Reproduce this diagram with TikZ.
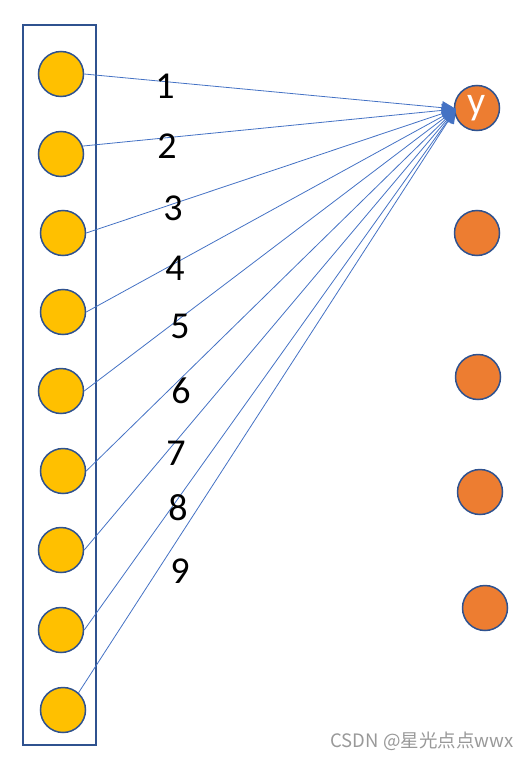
\documentclass[tikz,border=0pt]{standalone}
\usepackage{fontspec}
\setmainfont{Carlito}
\newfontfamily\cjkfont{Noto Sans CJK SC}
\usetikzlibrary{arrows.meta}
\definecolor{inyellow}{HTML}{FFC000}
\definecolor{outorange}{HTML}{ED7D31}
\definecolor{edgeblue}{HTML}{2F528F}
\definecolor{lineblue}{HTML}{4472C4}
\begin{document}
\begin{tikzpicture}[x=1pt,y=-1pt,
  inneuron/.style={circle,draw=edgeblue,line width=1.5pt,fill=inyellow,minimum size=45pt,inner sep=0pt},
  outneuron/.style={circle,draw=edgeblue,line width=1.5pt,fill=outorange,minimum size=45pt,inner sep=0pt},
  conn/.style={draw=lineblue,line width=0.8pt,-{Triangle[length=14pt,width=13pt]}},
  numlabel/.style={font=\fontsize{38}{38}\selectfont,inner sep=0pt}]
\useasboundingbox (0,0) rectangle (531,760);
\node[draw=edgeblue,line width=2pt,minimum width=73pt,minimum height=720pt,inner sep=0pt] (box) at (59.5,385) {};
\node[inneuron] (c1) at (61,74) {};
\node[inneuron] (c2) at (61,154) {};
\node[inneuron] (c3) at (63,233) {};
\node[inneuron] (c4) at (63,312) {};
\node[inneuron] (c5) at (61,391) {};
\node[inneuron] (c6) at (63,471) {};
\node[inneuron] (c7) at (61,550) {};
\node[inneuron] (c8) at (61,630) {};
\node[inneuron] (c9) at (63,710) {};
\node[outneuron,text=white,font=\fontsize{40}{40}\selectfont] (y) at (477,108) {y};
\node[outneuron] (o2) at (477,233) {};
\node[outneuron] (o3) at (478,377) {};
\node[outneuron] (o4) at (480,492) {};
\node[outneuron] (o5) at (485,608) {};
\coordinate (tip) at (456,109);
\draw[conn] (c1.east) -- (tip);
\draw[conn] (c2.20) -- (tip);
\foreach \i in {3,...,8} {\draw[conn] (c\i.east) -- (tip);}
\draw[conn] (c9.48) -- (tip);
\node[numlabel] (n1) at (165,86) {1};
\node[numlabel] (n2) at (167,146) {2};
\node[numlabel] (n3) at (173,208) {3};
\node[numlabel] (n4) at (175,268) {4};
\node[numlabel] (n5) at (180,326) {5};
\node[numlabel] (n6) at (181,391) {6};
\node[numlabel] (n7) at (176,453) {7};
\node[numlabel] (n8) at (178,508) {8};
\node[numlabel] (n9) at (180,571) {9};
\node[text=black!40,font=\cjkfont\fontsize{18.5}{18.5}\selectfont,inner sep=0pt] (wm) at (422,741) {CSDN @星光点点wwx};
\end{tikzpicture}
\end{document}
